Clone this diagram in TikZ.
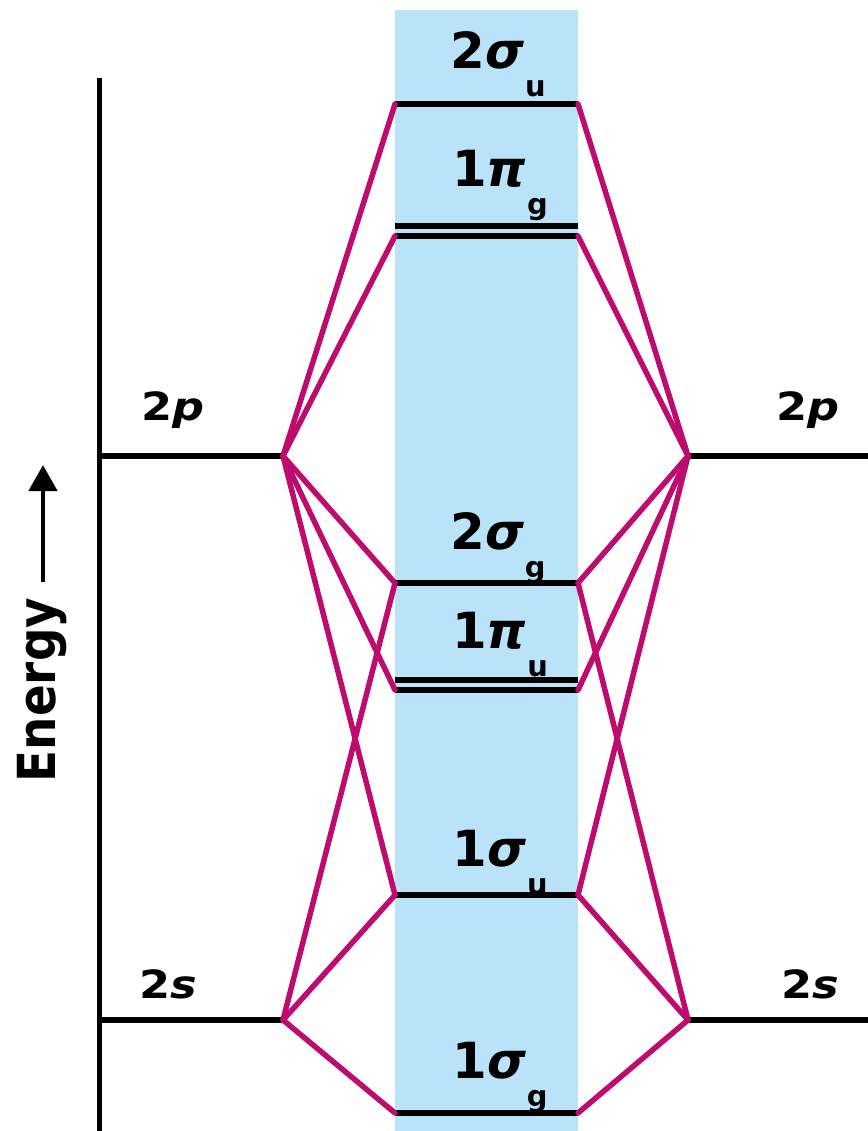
\documentclass[tikz,border=0pt]{standalone}
\usepackage{fontspec}
\setmainfont{DejaVu Sans}
\usetikzlibrary{arrows.meta}
\definecolor{band}{RGB}{186,226,248}
\definecolor{mag}{RGB}{190,12,110}
\newcommand{\molab}[3]{{\fontsize{50}{50}\selectfont\bfseries #1\textit{#2}}\hspace{1bp}\raisebox{-28bp}{\fontsize{29}{29}\selectfont\bfseries #3}}
\newcommand{\aolab}[2]{\scalebox{1.15}[1]{\fontsize{39}{39}\selectfont\bfseries #1\textit{#2}}}
\begin{document}
\begin{tikzpicture}[x=1bp,y=-1bp,
  level/.style={line width=5.5bp},
  corr/.style={draw=mag, line width=5.5bp, line cap=round, line join=round},
  lab/.style={anchor=base, inner sep=0pt}]
\useasboundingbox (0,0) rectangle (868,1131);
\fill[band] (395,10) rectangle (578,1131);
% axis
\coordinate (axtop) at (99,78);
\coordinate (axbot) at (99,1131);
\draw[line width=5bp] (axtop) -- (axbot);
\node[rotate=90, inner sep=0pt] (energy) at (42,690) {\scalebox{1}[1.12]{\fontsize{47}{47}\selectfont\bfseries Energy}};
\coordinate (ea) at (43,582);
\coordinate (eb) at (43,465);
\draw[line width=4.5bp, -{Triangle[width=28bp,length=26bp]}] (ea) -- (eb);
% atomic levels
\coordinate (L2pa) at (99,456);  \coordinate (L2p) at (283,456);
\coordinate (R2p) at (688,456);  \coordinate (R2pb) at (868,456);
\coordinate (L2sa) at (99,1020); \coordinate (L2s) at (283,1020);
\coordinate (R2s) at (688,1020); \coordinate (R2sb) at (868,1020);
\draw[level] (L2pa) -- (L2p);
\draw[level] (R2p) -- (R2pb);
\draw[level] (L2sa) -- (L2s);
\draw[level] (R2s) -- (R2sb);
% molecular levels
\coordinate (su2l) at (395,104);  \coordinate (su2r) at (578,104);
\coordinate (pgal) at (395,226);  \coordinate (pgar) at (578,226);
\coordinate (pgl) at (395,236);   \coordinate (pgr) at (578,236);
\coordinate (sg2l) at (395,583);  \coordinate (sg2r) at (578,583);
\coordinate (pual) at (395,680);  \coordinate (puar) at (578,680);
\coordinate (pul) at (395,690);   \coordinate (pur) at (578,690);
\coordinate (su1l) at (395,895);  \coordinate (su1r) at (578,895);
\coordinate (sg1l) at (395,1113); \coordinate (sg1r) at (578,1113);
\foreach \a/\b in {su2l/su2r,pgal/pgar,pgl/pgr,sg2l/sg2r,pual/puar,pul/pur,su1l/su1r,sg1l/sg1r}
  \draw[level] (\a) -- (\b);
% correlation lines
\foreach \t in {su2l,pgl,sg2l,pul,su1l} \draw[corr] (L2p) -- (\t);
\foreach \t in {sg2l,su1l,sg1l} \draw[corr] (L2s) -- (\t);
\foreach \t in {su2r,pgr,sg2r,pur,su1r} \draw[corr] (R2p) -- (\t);
\foreach \t in {sg2r,su1r,sg1r} \draw[corr] (R2s) -- (\t);
% labels
\node[lab] (l2su) at (498,68) {\molab{2}{σ}{u}};
\node[lab] (l1pg) at (500,186) {\molab{1}{π}{g}};
\node[lab] (l2sg) at (498,549) {\molab{2}{σ}{g}};
\node[lab] (l1pu) at (500,648) {\molab{1}{π}{u}};
\node[lab] (l1su) at (500,866) {\molab{1}{σ}{u}};
\node[lab] (l1sg) at (500,1078) {\molab{1}{σ}{g}};
\node[lab] (a2pl) at (173,420) {\aolab{2}{p}};
\node[lab] (a2pr) at (808,420) {\aolab{2}{p}};
\node[lab] (a2sl) at (168,998) {\aolab{2}{s}};
\node[lab] (a2sr) at (810,998) {\aolab{2}{s}};
\end{tikzpicture}
\end{document}
